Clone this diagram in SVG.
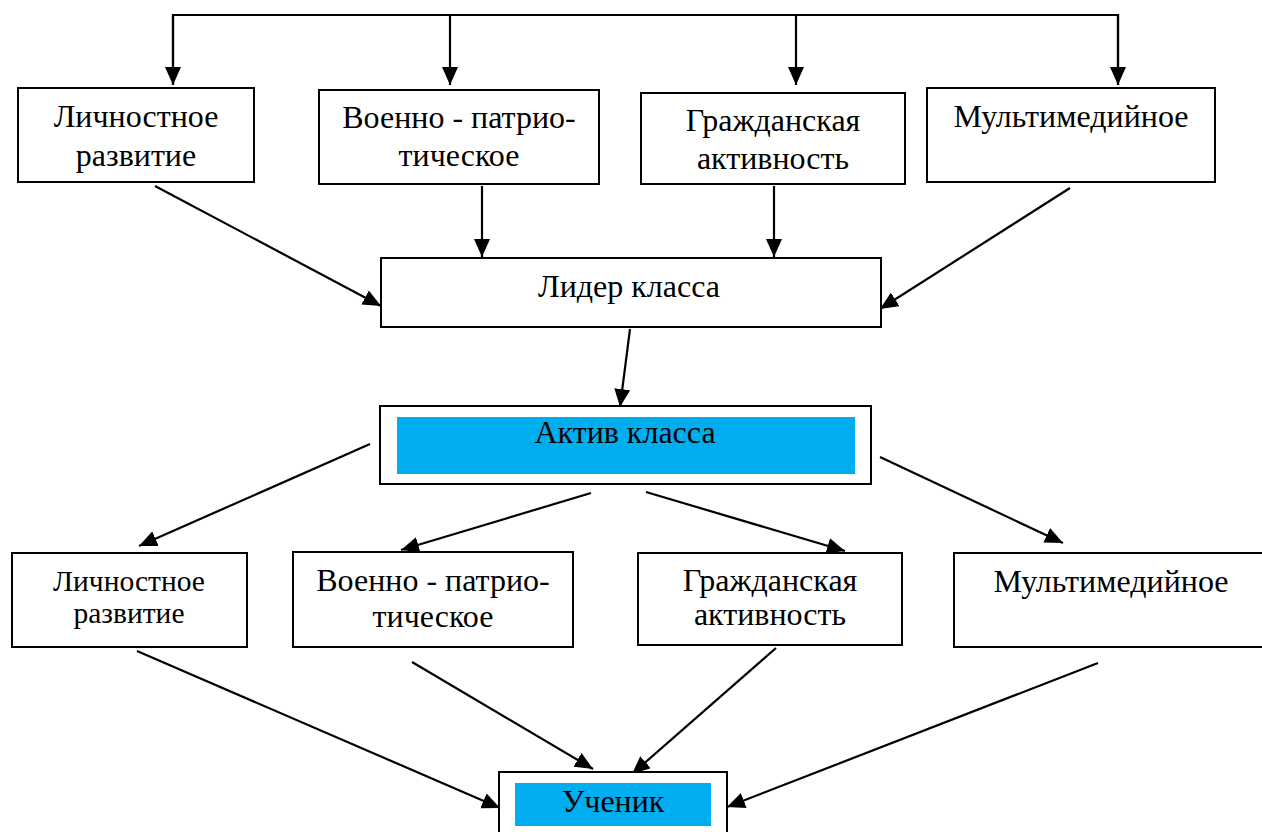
<svg xmlns="http://www.w3.org/2000/svg" width="1262" height="832" viewBox="0 0 1262 832">
<defs>
<marker id="ah" viewBox="0 0 18 16" refX="18" refY="8" markerWidth="18" markerHeight="16" markerUnits="userSpaceOnUse" orient="auto">
<path d="M0,0 L18,8 L0,16 Z" fill="#000"/>
</marker>
<style>
.box{fill:#fff;stroke:#000;stroke-width:2}
.blue{fill:#00AEEF;stroke:none}
.t{font-family:"Liberation Serif","Times New Roman",serif;font-size:32px;fill:#000;text-anchor:middle}
.s{font-size:29.5px}
.c{fill:none;stroke:#000;stroke-width:2.2}
.a{fill:none;stroke:#000;stroke-width:2.2;marker-end:url(#ah)}
</style>
</defs>
<rect width="1262" height="832" fill="#fff"/>
<g id="connectors">
<path class="c" d="M173,85 V15 H1118 V85"/>
<line class="a" x1="450" y1="15" x2="450" y2="85"/>
<line class="a" x1="796" y1="15" x2="796" y2="85"/>
<line class="a" x1="173" y1="15" x2="173" y2="85"/>
<line class="a" x1="1118" y1="15" x2="1118" y2="85"/>
<line class="a" x1="155" y1="186" x2="381" y2="306"/>
<line class="a" x1="482" y1="186" x2="482" y2="257"/>
<line class="a" x1="774" y1="186" x2="774" y2="257"/>
<line class="a" x1="1070" y1="188" x2="880" y2="309"/>
<line class="a" x1="630" y1="329" x2="620" y2="407"/>
<line class="a" x1="370" y1="444" x2="139" y2="546"/>
<line class="a" x1="591" y1="493" x2="401" y2="550"/>
<line class="a" x1="646" y1="492" x2="845" y2="551"/>
<line class="a" x1="880" y1="457" x2="1063" y2="543"/>
<line class="a" x1="137" y1="651" x2="500" y2="808"/>
<line class="a" x1="412" y1="662" x2="593" y2="769"/>
<line class="a" x1="776" y1="648" x2="632" y2="774"/>
<line class="a" x1="1098" y1="663" x2="727" y2="807"/>
</g>
<g id="top1"><rect class="box" x="18" y="88" width="236" height="94"/><text class="t" x="136" y="127">Личностное</text><text class="t" x="136" y="166">развитие</text></g>
<g id="top2"><rect class="box" x="319" y="90" width="280" height="94"/><text class="t" x="459" y="128">Военно - патрио-</text><text class="t" x="459" y="166">тическое</text></g>
<g id="top3"><rect class="box" x="641" y="93" width="264" height="91"/><text class="t" x="773" y="131">Гражданская</text><text class="t" x="773" y="169">активность</text></g>
<g id="top4"><rect class="box" x="927" y="88" width="288" height="94"/><text class="t" x="1071" y="127">Мультимедийное</text></g>
<g id="leader"><rect class="box" x="381" y="258" width="500" height="69"/><text class="t" x="629" y="297">Лидер класса</text></g>
<g id="aktiv"><rect class="box" x="380" y="406" width="491" height="78"/><rect class="blue" x="397" y="417" width="458" height="57"/><text class="t" x="625" y="443">Актив класса</text></g>
<g id="bot1"><rect class="box" x="12" y="553" width="235" height="94"/><text class="t s" x="129" y="591">Личностное</text><text class="t s" x="129" y="623">развитие</text></g>
<g id="bot2"><rect class="box" x="293" y="552" width="280" height="95"/><text class="t" x="433" y="591">Военно - патрио-</text><text class="t" x="433" y="627">тическое</text></g>
<g id="bot3"><rect class="box" x="638" y="553" width="264" height="92"/><text class="t" x="770" y="591">Гражданская</text><text class="t" x="770" y="625">активность</text></g>
<g id="bot4"><rect class="box" x="954" y="553" width="320" height="94"/><text class="t" x="1111" y="592">Мультимедийное</text></g>
<g id="student"><rect class="box" x="499" y="772" width="228" height="70"/><rect class="blue" x="515" y="783" width="196" height="43"/><text class="t" x="613" y="812">Ученик</text></g>
</svg>
